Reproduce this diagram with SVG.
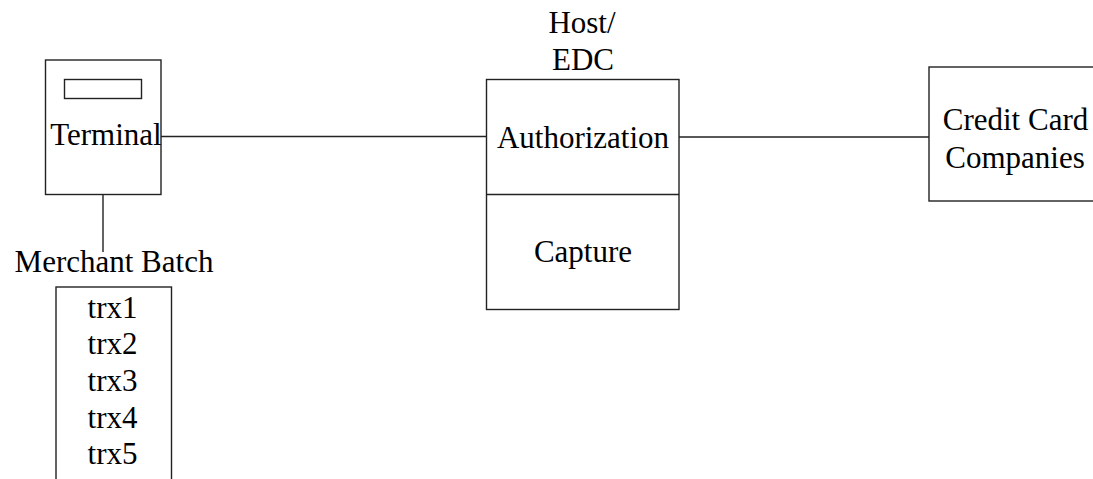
<svg xmlns="http://www.w3.org/2000/svg" width="1093" height="479" viewBox="0 0 1093 479">
  <style>
    .box { fill: #ffffff; stroke: #222222; stroke-width: 1.4; }
    .wire { stroke: #222222; stroke-width: 1.4; fill: none; }
    text { font-family: 'Liberation Serif', 'Times New Roman', Times, serif; font-size: 31px; fill: #000000; text-anchor: middle; }
  </style>
  <rect width="1093" height="479" fill="#ffffff"/>

  <!-- connectors -->
  <g id="connectors">
    <line class="wire" x1="161" y1="136.5" x2="486.5" y2="136.5"/>
    <line class="wire" x1="679" y1="137" x2="929" y2="137"/>
    <line class="wire" x1="103" y1="194.5" x2="103" y2="252"/>
  </g>

  <!-- terminal -->
  <g id="terminal">
    <rect class="box" x="45.5" y="60" width="115.5" height="134.5"/>
    <rect class="box" x="64.5" y="79.5" width="77" height="19"/>
    <text x="106" y="144.5" font-size="29">Terminal</text>
  </g>

  <!-- merchant batch -->
  <g id="merchant-batch">
    <text x="114" y="272" font-size="32">Merchant Batch</text>
    <rect class="box" x="56" y="287" width="115.5" height="200"/>
    <g font-size="30">
      <text x="112.5" y="317.5">trx1</text>
      <text x="112.5" y="354">trx2</text>
      <text x="112.5" y="390.5">trx3</text>
      <text x="112.5" y="427.5">trx4</text>
      <text x="112.5" y="464">trx5</text>
    </g>
  </g>

  <!-- host / EDC -->
  <g id="host-edc">
    <text x="582" y="33">Host/</text>
    <text x="583" y="70">EDC</text>
    <rect class="box" x="486.5" y="79.5" width="192.5" height="230"/>
    <line class="wire" x1="486.5" y1="194.5" x2="679" y2="194.5"/>
    <text x="583" y="148" font-size="32">Authorization</text>
    <text x="583" y="262" font-size="32">Capture</text>
  </g>

  <!-- card issuers -->
  <g id="credit-card-companies">
    <rect class="box" x="929" y="67" width="200" height="134"/>
    <text x="1015.5" y="130">Credit Card</text>
    <text x="1015" y="168">Companies</text>
  </g>
</svg>
